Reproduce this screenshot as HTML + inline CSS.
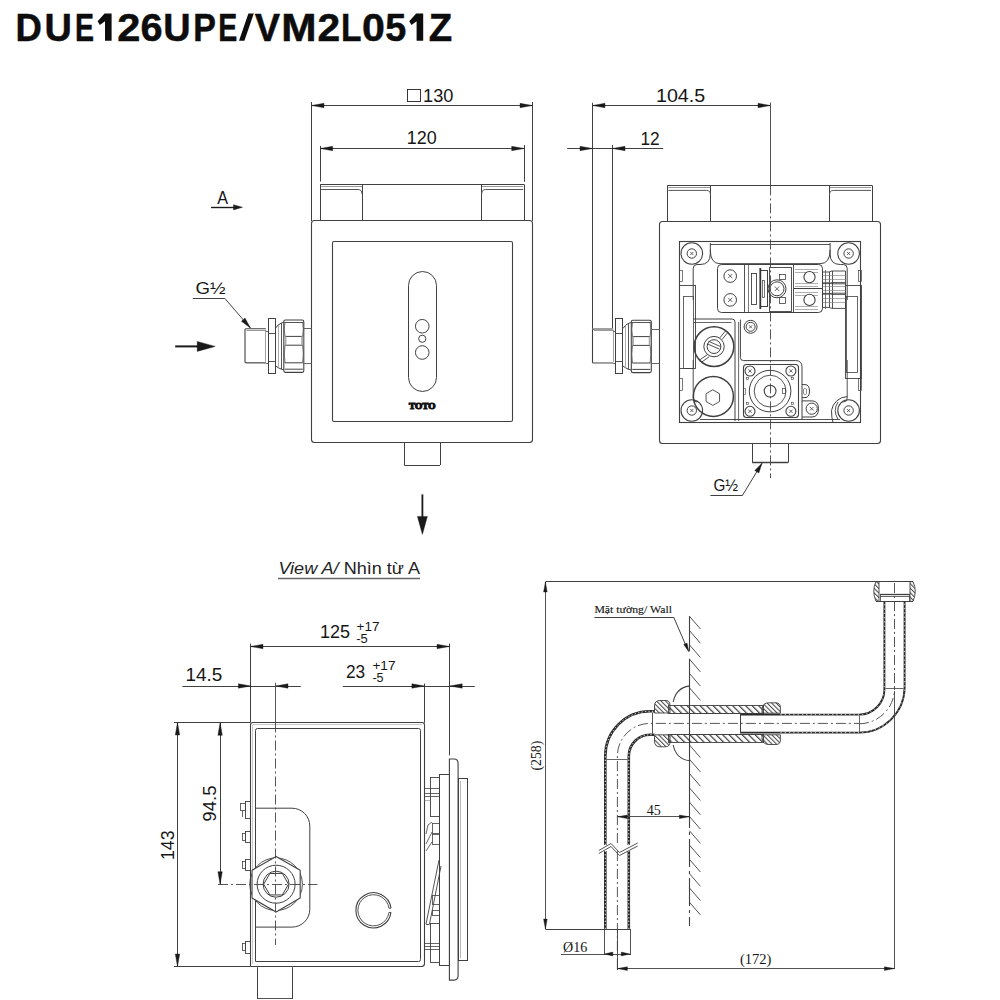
<!DOCTYPE html>
<html><head><meta charset="utf-8"><style>
html,body{margin:0;padding:0;background:#fff;}
svg{display:block;}
</style></head><body>
<svg width="1000" height="1000" viewBox="0 0 1000 1000" style="font-family:'Liberation Sans',sans-serif">
<rect x="0" y="0" width="1000" height="1000" fill="#fff"/>
<defs><pattern id="h" patternUnits="userSpaceOnUse" width="4.6" height="4.6" patternTransform="rotate(-45)"><rect x="0" y="0" width="1.2" height="4.6" fill="#3a3a3a"/></pattern><pattern id="hx" patternUnits="userSpaceOnUse" width="3.2" height="3.2" patternTransform="rotate(-45)"><rect x="0" y="0" width="1.0" height="3.2" fill="#444"/></pattern></defs>
<polygon points="104.60,13.60 111.60,13.60 111.60,40.80 105.00,40.80 105.00,21.20 99.90,25.10 97.60,21.20" fill="#0d0d0d"/>
<polygon points="416.20,13.60 423.20,13.60 423.20,40.80 416.60,40.80 416.60,21.20 411.50,25.10 409.20,21.20" fill="#0d0d0d"/>
<polygon points="239,40.8 244.4,40.8 253.8,13.6 248.4,13.6" fill="#0d0d0d"/>
<text x="0" y="0" transform="translate(15.56,40.8) scale(0.925,1)" font-family="Liberation Sans" font-weight="bold" font-size="39.5" fill="#0d0d0d" stroke="#0d0d0d" stroke-width="0.5">D</text>
<text x="0" y="0" transform="translate(44.52,40.8) scale(0.960,1)" font-family="Liberation Sans" font-weight="bold" font-size="39.5" fill="#0d0d0d" stroke="#0d0d0d" stroke-width="0.5">U</text>
<text x="0" y="0" transform="translate(74.89,40.8) scale(0.722,1)" font-family="Liberation Sans" font-weight="bold" font-size="39.5" fill="#0d0d0d" stroke="#0d0d0d" stroke-width="0.5">E</text>
<text x="0" y="0" transform="translate(117.36,40.8) scale(1.052,1)" font-family="Liberation Sans" font-weight="bold" font-size="39.5" fill="#0d0d0d" stroke="#0d0d0d" stroke-width="0.5">2</text>
<text x="0" y="0" transform="translate(140.55,40.8) scale(1.006,1)" font-family="Liberation Sans" font-weight="bold" font-size="39.5" fill="#0d0d0d" stroke="#0d0d0d" stroke-width="0.5">6</text>
<text x="0" y="0" transform="translate(163.32,40.8) scale(0.960,1)" font-family="Liberation Sans" font-weight="bold" font-size="39.5" fill="#0d0d0d" stroke="#0d0d0d" stroke-width="0.5">U</text>
<text x="0" y="0" transform="translate(193.33,40.8) scale(0.859,1)" font-family="Liberation Sans" font-weight="bold" font-size="39.5" fill="#0d0d0d" stroke="#0d0d0d" stroke-width="0.5">P</text>
<text x="0" y="0" transform="translate(218.29,40.8) scale(0.722,1)" font-family="Liberation Sans" font-weight="bold" font-size="39.5" fill="#0d0d0d" stroke="#0d0d0d" stroke-width="0.5">E</text>
<text x="0" y="0" transform="translate(254.74,40.8) scale(0.961,1)" font-family="Liberation Sans" font-weight="bold" font-size="39.5" fill="#0d0d0d" stroke="#0d0d0d" stroke-width="0.5">V</text>
<text x="0" y="0" transform="translate(281.17,40.8) scale(1.072,1)" font-family="Liberation Sans" font-weight="bold" font-size="39.5" fill="#0d0d0d" stroke="#0d0d0d" stroke-width="0.5">M</text>
<text x="0" y="0" transform="translate(317.39,40.8) scale(1.031,1)" font-family="Liberation Sans" font-weight="bold" font-size="39.5" fill="#0d0d0d" stroke="#0d0d0d" stroke-width="0.5">2</text>
<text x="0" y="0" transform="translate(340.96,40.8) scale(0.849,1)" font-family="Liberation Sans" font-weight="bold" font-size="39.5" fill="#0d0d0d" stroke="#0d0d0d" stroke-width="0.5">L</text>
<text x="0" y="0" transform="translate(361.97,40.8) scale(1.043,1)" font-family="Liberation Sans" font-weight="bold" font-size="39.5" fill="#0d0d0d" stroke="#0d0d0d" stroke-width="0.5">0</text>
<text x="0" y="0" transform="translate(385.24,40.8) scale(0.957,1)" font-family="Liberation Sans" font-weight="bold" font-size="39.5" fill="#0d0d0d" stroke="#0d0d0d" stroke-width="0.5">5</text>
<text x="0" y="0" transform="translate(428.86,40.8) scale(0.972,1)" font-family="Liberation Sans" font-weight="bold" font-size="39.5" fill="#0d0d0d" stroke="#0d0d0d" stroke-width="0.5">Z</text>
<line x1="311.50" y1="102.00" x2="311.50" y2="221.00" stroke="#404040" stroke-width="1.0" />
<line x1="532.50" y1="102.00" x2="532.50" y2="221.00" stroke="#404040" stroke-width="1.0" />
<line x1="311.50" y1="105.50" x2="532.50" y2="105.50" stroke="#404040" stroke-width="1.0" />
<polygon points="311.50,105.50 324.00,103.30 324.00,107.70" fill="#1a1a1a" stroke="#1a1a1a" stroke-width="0.4" stroke-linejoin="round"/>
<polygon points="532.50,105.50 520.00,107.70 520.00,103.30" fill="#1a1a1a" stroke="#1a1a1a" stroke-width="0.4" stroke-linejoin="round"/>
<rect x="407.50" y="89.50" width="13.00" height="12.00" rx="0" stroke="#222" stroke-width="0.9" fill="none"/>
<text x="423.1" y="101.7" font-family="Liberation Sans" font-size="17.6" font-weight="normal" font-style="normal" fill="#161616" text-anchor="start" textLength="30.3" lengthAdjust="spacingAndGlyphs" >130</text>
<line x1="320.50" y1="146.00" x2="320.50" y2="181.60" stroke="#404040" stroke-width="1.0" />
<line x1="524.50" y1="145.00" x2="524.50" y2="181.80" stroke="#404040" stroke-width="1.0" />
<line x1="320.20" y1="148.50" x2="524.20" y2="148.50" stroke="#404040" stroke-width="1.0" />
<polygon points="320.20,148.50 332.70,146.30 332.70,150.70" fill="#1a1a1a" stroke="#1a1a1a" stroke-width="0.4" stroke-linejoin="round"/>
<polygon points="524.20,148.50 511.70,150.70 511.70,146.30" fill="#1a1a1a" stroke="#1a1a1a" stroke-width="0.4" stroke-linejoin="round"/>
<text x="406.7" y="143.7" font-family="Liberation Sans" font-size="17.6" font-weight="normal" font-style="normal" fill="#161616" text-anchor="start" textLength="30" lengthAdjust="spacingAndGlyphs" >120</text>
<line x1="320.20" y1="184.50" x2="524.20" y2="184.50" stroke="#404040" stroke-width="1.0" />
<line x1="320.50" y1="184.50" x2="320.50" y2="221.00" stroke="#404040" stroke-width="1.0" />
<line x1="362.50" y1="184.50" x2="362.50" y2="221.00" stroke="#404040" stroke-width="1.0" />
<line x1="481.50" y1="184.50" x2="481.50" y2="221.00" stroke="#404040" stroke-width="1.0" />
<line x1="524.50" y1="184.50" x2="524.50" y2="221.00" stroke="#404040" stroke-width="1.0" />
<line x1="321.20" y1="186.50" x2="362.00" y2="186.50" stroke="#555" stroke-width="0.6" />
<path d="M321.2,189.5 L358,189.5 Q362,189.5 362,194.0" stroke="#555" stroke-width="1.0" fill="none" />
<line x1="481.70" y1="186.50" x2="523.20" y2="186.50" stroke="#555" stroke-width="0.6" />
<path d="M523.2,189.5 L485.7,189.5 Q481.7,189.5 481.7,194.0" stroke="#555" stroke-width="1.0" fill="none" />
<rect x="311.50" y="220.50" width="221.00" height="222.00" rx="3" stroke="#404040" stroke-width="1.1" fill="#fff"/>
<rect x="332.50" y="241.50" width="180.00" height="180.00" rx="1.5" stroke="#404040" stroke-width="1.1" fill="none"/>
<rect x="408.50" y="271.50" width="28.00" height="120.00" rx="14" stroke="#404040" stroke-width="1.0" fill="none"/>
<circle cx="422.25" cy="326.25" r="6.80" stroke="#404040" stroke-width="1.0" fill="none"/>
<circle cx="422.25" cy="338.75" r="3.60" stroke="#404040" stroke-width="1.0" fill="none"/>
<circle cx="422.25" cy="352.50" r="6.80" stroke="#404040" stroke-width="1.0" fill="none"/>
<text x="422.3" y="408.5" font-family="Liberation Serif" font-size="8.2" font-weight="bold" font-style="normal" fill="#111" text-anchor="middle" textLength="26.5" lengthAdjust="spacingAndGlyphs" stroke="#111" stroke-width="1.1">TOTO</text>
<line x1="404.50" y1="442.50" x2="404.50" y2="465.00" stroke="#404040" stroke-width="1.0" />
<line x1="440.50" y1="442.50" x2="440.50" y2="465.00" stroke="#404040" stroke-width="1.0" />
<line x1="404.25" y1="465.50" x2="440.00" y2="465.50" stroke="#404040" stroke-width="1.0" />
<path d="M265.8,328.8 L246,328.8 Q245,328.8 245,329.8 L245,361.8 Q245,362.8 246,362.8 L265.8,362.8" stroke="#404040" stroke-width="1.1" fill="none" />
<line x1="246.50" y1="330.50" x2="265.80" y2="330.50" stroke="#999" stroke-width="1.0" />
<line x1="265.50" y1="329.80" x2="265.50" y2="361.80" stroke="#888" stroke-width="0.8" />
<line x1="246.00" y1="363.50" x2="265.80" y2="363.50" stroke="#aaa" stroke-width="0.8" />
<line x1="265.80" y1="331.50" x2="268.20" y2="331.50" stroke="#404040" stroke-width="0.8" />
<line x1="265.80" y1="363.50" x2="268.20" y2="363.50" stroke="#404040" stroke-width="0.8" />
<rect x="268.50" y="318.50" width="7.00" height="55.00" rx="0" stroke="#404040" stroke-width="1.0" fill="none"/>
<line x1="268.20" y1="333.50" x2="275.40" y2="333.50" stroke="#404040" stroke-width="0.9" />
<line x1="268.20" y1="361.50" x2="275.40" y2="361.50" stroke="#404040" stroke-width="0.9" />
<path d="M275.4,328.3 L278.4,324.8 L281.4,323.0 L283.8,322.3 M275.4,365.8 L278.4,367.8 L281.4,369.2 L283.8,369.8" stroke="#404040" stroke-width="1.0" fill="none" />
<line x1="278.50" y1="324.80" x2="278.50" y2="367.80" stroke="#888" stroke-width="0.7" />
<line x1="281.50" y1="323.00" x2="281.50" y2="369.20" stroke="#444" stroke-width="0.9" />
<path d="M285.3,320.0 L302.3,320.0 Q303.8,320.0 303.8,321.8 L303.8,370.6 Q303.8,372.40000000000003 302.3,372.40000000000003 L285.3,372.40000000000003 Q283.8,372.40000000000003 283.8,370.6 L283.8,321.8 Q283.8,320.0 285.3,320.0 Z" stroke="#404040" stroke-width="1.1" fill="none" />
<line x1="284.30" y1="322.50" x2="303.30" y2="322.50" stroke="#555" stroke-width="1.0" />
<path d="M284.8,336.40000000000003 L302.8,336.40000000000003 M284.8,345.2 L302.8,345.2 M284.8,362.8 L302.8,362.8 M284.8,369.2 L302.8,369.2" stroke="#404040" stroke-width="1.0" fill="none" />
<path d="M285.0,322.0 Q283.6,329.2 285.0,336.40000000000003 M302.6,322.0 Q304.0,329.2 302.6,336.40000000000003 M285.0,345.2 Q283.6,354.0 285.0,362.8 M302.6,345.2 Q304.0,354.0 302.6,362.8" stroke="#555" stroke-width="0.8" fill="none" />
<line x1="285.40" y1="336.40" x2="285.40" y2="345.20" stroke="#aaa" stroke-width="2.0" />
<line x1="302.20" y1="336.40" x2="302.20" y2="345.20" stroke="#aaa" stroke-width="2.0" />
<line x1="303.80" y1="328.50" x2="311.50" y2="328.50" stroke="#666" stroke-width="1.0" />
<line x1="303.80" y1="363.50" x2="311.50" y2="363.50" stroke="#666" stroke-width="1.0" />
<text x="195.5" y="293.6" font-family="Liberation Sans" font-size="16.5" font-weight="normal" font-style="normal" fill="#161616" text-anchor="start" textLength="30" lengthAdjust="spacingAndGlyphs" >G½</text>
<line x1="192.80" y1="298.50" x2="224.80" y2="298.50" stroke="#404040" stroke-width="1.0" />
<line x1="224.80" y1="298.40" x2="250.40" y2="328.00" stroke="#404040" stroke-width="1.0" />
<polygon points="250.40,328.00 241.39,321.25 245.02,318.11" fill="#1a1a1a" stroke="#1a1a1a" stroke-width="0.4" stroke-linejoin="round"/>
<line x1="175.20" y1="346.40" x2="205.00" y2="346.40" stroke="#1a1a1a" stroke-width="2.0" />
<polygon points="215.20,346.40 197.20,351.40 197.20,341.40" fill="#1a1a1a" stroke="#1a1a1a" stroke-width="0.4" stroke-linejoin="round"/>
<text x="217.3" y="203.5" font-family="Liberation Sans" font-size="17.6" font-weight="normal" font-style="normal" fill="#161616" text-anchor="start" textLength="10.8" lengthAdjust="spacingAndGlyphs" >A</text>
<line x1="211.00" y1="207.50" x2="236.00" y2="207.50" stroke="#1a1a1a" stroke-width="1.4" />
<polygon points="242.50,207.30 233.50,209.90 233.50,204.70" fill="#1a1a1a" stroke="#1a1a1a" stroke-width="0.4" stroke-linejoin="round"/>
<line x1="592.50" y1="102.80" x2="592.50" y2="328.80" stroke="#404040" stroke-width="1.0" />
<line x1="592.50" y1="105.50" x2="770.50" y2="105.50" stroke="#404040" stroke-width="1.0" />
<polygon points="592.50,105.50 605.00,103.30 605.00,107.70" fill="#1a1a1a" stroke="#1a1a1a" stroke-width="0.4" stroke-linejoin="round"/>
<polygon points="770.50,105.50 758.00,107.70 758.00,103.30" fill="#1a1a1a" stroke="#1a1a1a" stroke-width="0.4" stroke-linejoin="round"/>
<text x="656" y="102" font-family="Liberation Sans" font-size="17.6" font-weight="normal" font-style="normal" fill="#161616" text-anchor="start" textLength="49.2" lengthAdjust="spacingAndGlyphs" >104.5</text>
<line x1="567.20" y1="148.50" x2="663.20" y2="148.50" stroke="#404040" stroke-width="1.0" />
<line x1="612.50" y1="145.00" x2="612.50" y2="328.00" stroke="#404040" stroke-width="1.0" />
<polygon points="592.50,148.50 580.00,150.70 580.00,146.30" fill="#1a1a1a" stroke="#1a1a1a" stroke-width="0.4" stroke-linejoin="round"/>
<polygon points="612.50,148.50 625.00,146.30 625.00,150.70" fill="#1a1a1a" stroke="#1a1a1a" stroke-width="0.4" stroke-linejoin="round"/>
<text x="640.4" y="145.3" font-family="Liberation Sans" font-size="17.6" font-weight="normal" font-style="normal" fill="#161616" text-anchor="start" textLength="19.2" lengthAdjust="spacingAndGlyphs" >12</text>
<line x1="667.40" y1="185.50" x2="872.00" y2="185.50" stroke="#404040" stroke-width="1.0" />
<line x1="667.50" y1="185.40" x2="667.50" y2="221.00" stroke="#404040" stroke-width="1.0" />
<line x1="710.50" y1="185.40" x2="710.50" y2="221.00" stroke="#404040" stroke-width="1.0" />
<line x1="829.50" y1="185.40" x2="829.50" y2="221.00" stroke="#404040" stroke-width="1.0" />
<line x1="872.50" y1="185.40" x2="872.50" y2="221.00" stroke="#404040" stroke-width="1.0" />
<line x1="668.40" y1="187.50" x2="710.50" y2="187.50" stroke="#555" stroke-width="0.6" />
<path d="M668.4,190.4 L706.5,190.4 Q710.5,190.4 710.5,194.9" stroke="#555" stroke-width="1.0" fill="none" />
<line x1="829.50" y1="187.50" x2="871.00" y2="187.50" stroke="#555" stroke-width="0.6" />
<path d="M871,190.4 L833.5,190.4 Q829.5,190.4 829.5,194.9" stroke="#555" stroke-width="1.0" fill="none" />
<rect x="659.50" y="221.50" width="221.00" height="222.00" rx="3" stroke="#404040" stroke-width="1.1" fill="#fff"/>
<rect x="679.50" y="241.50" width="181.00" height="181.00" rx="0" stroke="#404040" stroke-width="1.1" fill="none"/>
<path d="M613.3,329 L593.5,329 Q592.5,329 592.5,330 L592.5,362 Q592.5,363 593.5,363 L613.3,363" stroke="#404040" stroke-width="1.1" fill="none" />
<line x1="594.00" y1="330.50" x2="613.30" y2="330.50" stroke="#999" stroke-width="1.0" />
<line x1="613.50" y1="330.00" x2="613.50" y2="362.00" stroke="#888" stroke-width="0.8" />
<line x1="593.50" y1="363.50" x2="613.30" y2="363.50" stroke="#aaa" stroke-width="0.8" />
<line x1="613.30" y1="331.50" x2="615.70" y2="331.50" stroke="#404040" stroke-width="0.8" />
<line x1="613.30" y1="363.50" x2="615.70" y2="363.50" stroke="#404040" stroke-width="0.8" />
<rect x="615.50" y="318.50" width="7.00" height="55.00" rx="0" stroke="#404040" stroke-width="1.0" fill="none"/>
<line x1="615.70" y1="333.50" x2="622.90" y2="333.50" stroke="#404040" stroke-width="0.9" />
<line x1="615.70" y1="361.50" x2="622.90" y2="361.50" stroke="#404040" stroke-width="0.9" />
<path d="M622.9,328.5 L625.9,325 L628.9,323.2 L631.3,322.5 M622.9,366 L625.9,368 L628.9,369.4 L631.3,370" stroke="#404040" stroke-width="1.0" fill="none" />
<line x1="625.50" y1="325.00" x2="625.50" y2="368.00" stroke="#888" stroke-width="0.7" />
<line x1="628.50" y1="323.20" x2="628.50" y2="369.40" stroke="#444" stroke-width="0.9" />
<path d="M632.8,320.2 L649.8,320.2 Q651.3,320.2 651.3,322 L651.3,370.8 Q651.3,372.6 649.8,372.6 L632.8,372.6 Q631.3,372.6 631.3,370.8 L631.3,322 Q631.3,320.2 632.8,320.2 Z" stroke="#404040" stroke-width="1.1" fill="none" />
<line x1="631.80" y1="322.50" x2="650.80" y2="322.50" stroke="#555" stroke-width="1.0" />
<path d="M632.3,336.6 L650.3,336.6 M632.3,345.4 L650.3,345.4 M632.3,363 L650.3,363 M632.3,369.4 L650.3,369.4" stroke="#404040" stroke-width="1.0" fill="none" />
<path d="M632.5,322.2 Q631.0999999999999,329.4 632.5,336.6 M650.0999999999999,322.2 Q651.5,329.4 650.0999999999999,336.6 M632.5,345.4 Q631.0999999999999,354.2 632.5,363 M650.0999999999999,345.4 Q651.5,354.2 650.0999999999999,363" stroke="#555" stroke-width="0.8" fill="none" />
<line x1="632.90" y1="336.60" x2="632.90" y2="345.40" stroke="#aaa" stroke-width="2.0" />
<line x1="649.70" y1="336.60" x2="649.70" y2="345.40" stroke="#aaa" stroke-width="2.0" />
<line x1="651.30" y1="329.50" x2="659.50" y2="329.50" stroke="#666" stroke-width="1.0" />
<line x1="651.30" y1="363.50" x2="659.50" y2="363.50" stroke="#666" stroke-width="1.0" />
<line x1="752.50" y1="443.00" x2="752.50" y2="462.60" stroke="#404040" stroke-width="1.0" />
<line x1="788.50" y1="443.00" x2="788.50" y2="462.60" stroke="#404040" stroke-width="1.0" />
<line x1="752.20" y1="462.50" x2="788.00" y2="462.50" stroke="#404040" stroke-width="1.3" />
<text x="713.4" y="490.8" font-family="Liberation Sans" font-size="16" font-weight="normal" font-style="normal" fill="#161616" text-anchor="start" textLength="24.6" lengthAdjust="spacingAndGlyphs" >G½</text>
<line x1="710.40" y1="495.50" x2="742.20" y2="495.50" stroke="#404040" stroke-width="1.0" />
<line x1="742.20" y1="495.80" x2="762.00" y2="463.20" stroke="#404040" stroke-width="1.0" />
<polygon points="762.00,463.20 758.86,472.99 754.76,470.50" fill="#1a1a1a" stroke="#1a1a1a" stroke-width="0.4" stroke-linejoin="round"/>
<line x1="710.00" y1="244.50" x2="830.00" y2="244.50" stroke="#404040" stroke-width="0.9" />
<line x1="700.00" y1="419.50" x2="840.00" y2="419.50" stroke="#404040" stroke-width="0.9" />
<circle cx="691.80" cy="253.50" r="10.80" stroke="#404040" stroke-width="1.1" fill="none"/>
<circle cx="691.80" cy="253.50" r="4.70" stroke="#404040" stroke-width="1.0" fill="none"/>
<line x1="690.25" y1="251.95" x2="693.35" y2="255.05" stroke="#404040" stroke-width="0.8" />
<line x1="690.25" y1="255.05" x2="693.35" y2="251.95" stroke="#404040" stroke-width="0.8" />
<path d="M693.1999999999999,277.0 L693.1999999999999,267.5 A14,14 0 0 0 705.8,253.5 " stroke="#404040" stroke-width="0.0" fill="none" />
<circle cx="848.60" cy="253.50" r="10.80" stroke="#404040" stroke-width="1.1" fill="none"/>
<circle cx="848.60" cy="253.50" r="4.70" stroke="#404040" stroke-width="1.0" fill="none"/>
<line x1="847.05" y1="251.95" x2="850.15" y2="255.05" stroke="#404040" stroke-width="0.8" />
<line x1="847.05" y1="255.05" x2="850.15" y2="251.95" stroke="#404040" stroke-width="0.8" />
<path d="M847.2,277.0 L847.2,267.5 A14,14 0 0 1 834.6,253.5 " stroke="#404040" stroke-width="0.0" fill="none" />
<circle cx="691.80" cy="410.50" r="10.80" stroke="#404040" stroke-width="1.1" fill="none"/>
<circle cx="691.80" cy="410.50" r="4.70" stroke="#404040" stroke-width="1.0" fill="none"/>
<line x1="690.25" y1="408.95" x2="693.35" y2="412.05" stroke="#404040" stroke-width="0.8" />
<line x1="690.25" y1="412.05" x2="693.35" y2="408.95" stroke="#404040" stroke-width="0.8" />
<path d="M693.1999999999999,387.0 L693.1999999999999,396.5 A14,14 0 0 1 705.8,410.5 " stroke="#404040" stroke-width="0.0" fill="none" />
<circle cx="848.60" cy="410.50" r="10.80" stroke="#404040" stroke-width="1.1" fill="none"/>
<circle cx="848.60" cy="410.50" r="4.70" stroke="#404040" stroke-width="1.0" fill="none"/>
<line x1="847.05" y1="408.95" x2="850.15" y2="412.05" stroke="#404040" stroke-width="0.8" />
<line x1="847.05" y1="412.05" x2="850.15" y2="408.95" stroke="#404040" stroke-width="0.8" />
<path d="M847.2,387.0 L847.2,396.5 A14,14 0 0 0 834.6,410.5 " stroke="#404040" stroke-width="0.0" fill="none" />
<path d="M693.2,300 L693.2,268.5 Q693.2,264.5 697,264.5 L700,264.5 Q710.3,264.5 710.3,254 L710.3,243" stroke="#404040" stroke-width="1.0" fill="none" />
<path d="M847.2,300 L847.2,268.5 Q847.2,264.5 843.4,264.5 L840.4,264.5 Q830.1,264.5 830.1,254 L830.1,243" stroke="#404040" stroke-width="1.0" fill="none" />
<path d="M710.3,250 Q710.3,263.7 720,263.7 L820,263.7 Q830.1,263.7 830.1,250" stroke="#404040" stroke-width="1.0" fill="none" />
<path d="M693.2,360 L693.2,398 Q693.2,402 697,402" stroke="#404040" stroke-width="0.9" fill="none" />
<path d="M847.2,360 L847.2,398 Q847.2,402 843.4,402" stroke="#404040" stroke-width="0.9" fill="none" />
<rect x="679.50" y="285.50" width="16.00" height="83.00" rx="0" stroke="#404040" stroke-width="0.9" fill="none"/>
<rect x="683.50" y="296.50" width="10.00" height="72.00" rx="0" stroke="#404040" stroke-width="0.8" fill="none"/>
<rect x="845.50" y="285.50" width="16.00" height="93.00" rx="0" stroke="#404040" stroke-width="0.9" fill="none"/>
<rect x="846.50" y="296.50" width="11.00" height="76.00" rx="0" stroke="#404040" stroke-width="0.8" fill="none"/>
<rect x="679.50" y="270.50" width="3.00" height="11.00" rx="0" stroke="#404040" stroke-width="0.7" fill="none"/>
<rect x="858.50" y="270.50" width="3.00" height="11.00" rx="0" stroke="#404040" stroke-width="0.7" fill="none"/>
<rect x="679.50" y="378.50" width="3.00" height="12.00" rx="0" stroke="#404040" stroke-width="0.7" fill="none"/>
<rect x="858.50" y="378.50" width="3.00" height="12.00" rx="0" stroke="#404040" stroke-width="0.7" fill="none"/>
<rect x="717.50" y="264.50" width="105.00" height="48.00" rx="4" stroke="#404040" stroke-width="1.0" fill="none"/>
<line x1="744.50" y1="264.40" x2="744.50" y2="312.20" stroke="#404040" stroke-width="0.9" />
<line x1="748.50" y1="264.40" x2="748.50" y2="312.20" stroke="#404040" stroke-width="0.7" />
<circle cx="730.20" cy="276.10" r="6.30" stroke="#404040" stroke-width="1.0" fill="none"/>
<line x1="728.12" y1="274.02" x2="732.28" y2="278.18" stroke="#404040" stroke-width="0.8" />
<line x1="728.12" y1="278.18" x2="732.28" y2="274.02" stroke="#404040" stroke-width="0.8" />
<circle cx="730.20" cy="299.90" r="6.30" stroke="#404040" stroke-width="1.0" fill="none"/>
<line x1="728.12" y1="297.82" x2="732.28" y2="301.98" stroke="#404040" stroke-width="0.8" />
<line x1="728.12" y1="301.98" x2="732.28" y2="297.82" stroke="#404040" stroke-width="0.8" />
<rect x="751.50" y="273.50" width="5.00" height="31.00" rx="0" stroke="#404040" stroke-width="0.9" fill="none"/>
<rect x="760.50" y="270.50" width="7.00" height="36.00" rx="0" stroke="#404040" stroke-width="1.0" fill="none"/>
<line x1="760.30" y1="268.00" x2="760.30" y2="309.00" stroke="#333" stroke-width="1.8" />
<rect x="762.50" y="280.50" width="2.00" height="17.00" rx="0" stroke="#404040" stroke-width="0.7" fill="none"/>
<rect x="769.50" y="267.50" width="22.00" height="44.00" rx="0" stroke="#404040" stroke-width="0.9" fill="none"/>
<rect x="779.50" y="274.50" width="6.00" height="5.00" rx="0" stroke="#404040" stroke-width="0.8" fill="none"/>
<rect x="779.50" y="297.50" width="6.00" height="6.00" rx="0" stroke="#404040" stroke-width="0.8" fill="none"/>
<circle cx="777.00" cy="288.80" r="9.00" stroke="#404040" stroke-width="1.0" fill="none"/>
<circle cx="777.00" cy="288.80" r="7.00" stroke="#404040" stroke-width="1.0" fill="none"/>
<line x1="774.80" y1="286.60" x2="779.20" y2="291.00" stroke="#404040" stroke-width="0.8" />
<line x1="774.80" y1="291.00" x2="779.20" y2="286.60" stroke="#404040" stroke-width="0.8" />
<line x1="793.50" y1="264.40" x2="793.50" y2="312.20" stroke="#404040" stroke-width="0.9" />
<line x1="793.20" y1="288.50" x2="822.50" y2="288.50" stroke="#404040" stroke-width="1.0" />
<line x1="795.00" y1="269.50" x2="818.00" y2="269.50" stroke="#777" stroke-width="0.6" />
<line x1="795.00" y1="272.50" x2="818.00" y2="272.50" stroke="#777" stroke-width="0.6" />
<line x1="795.00" y1="283.50" x2="818.00" y2="283.50" stroke="#777" stroke-width="0.6" />
<line x1="795.00" y1="286.50" x2="818.00" y2="286.50" stroke="#777" stroke-width="0.6" />
<line x1="795.00" y1="292.50" x2="818.00" y2="292.50" stroke="#777" stroke-width="0.6" />
<line x1="795.00" y1="295.50" x2="818.00" y2="295.50" stroke="#777" stroke-width="0.6" />
<line x1="795.00" y1="306.50" x2="818.00" y2="306.50" stroke="#777" stroke-width="0.6" />
<line x1="795.00" y1="309.50" x2="818.00" y2="309.50" stroke="#777" stroke-width="0.6" />
<circle cx="809.50" cy="277.10" r="5.60" stroke="#404040" stroke-width="1.1" fill="#fff"/>
<circle cx="809.50" cy="299.90" r="5.60" stroke="#404040" stroke-width="1.1" fill="#fff"/>
<path d="M822.5,272 L829,272 L832,271 L845.5,271 L845.5,283.8 L832,283.8 L829,282.8 L822.5,282.8" stroke="#404040" stroke-width="0.9" fill="none" />
<line x1="829.50" y1="272.00" x2="829.50" y2="282.80" stroke="#404040" stroke-width="0.9" />
<line x1="832.50" y1="271.00" x2="832.50" y2="283.80" stroke="#404040" stroke-width="0.9" />
<line x1="822.50" y1="275.50" x2="845.50" y2="275.50" stroke="#888" stroke-width="0.7" />
<line x1="822.50" y1="279.50" x2="845.50" y2="279.50" stroke="#888" stroke-width="0.7" />
<path d="M822.5,283.6 L829,283.6 L832,282.6 L845.5,282.6 L845.5,294.4 L832,294.4 L829,293.4 L822.5,293.4" stroke="#404040" stroke-width="0.9" fill="none" />
<line x1="829.50" y1="283.60" x2="829.50" y2="293.40" stroke="#404040" stroke-width="0.9" />
<line x1="832.50" y1="282.60" x2="832.50" y2="294.40" stroke="#404040" stroke-width="0.9" />
<line x1="822.50" y1="286.50" x2="845.50" y2="286.50" stroke="#888" stroke-width="0.7" />
<line x1="822.50" y1="290.50" x2="845.50" y2="290.50" stroke="#888" stroke-width="0.7" />
<path d="M822.5,294.2 L829,294.2 L832,293.2 L845.5,293.2 L845.5,308.4 L832,308.4 L829,307.4 L822.5,307.4" stroke="#404040" stroke-width="0.9" fill="none" />
<line x1="829.50" y1="294.20" x2="829.50" y2="307.40" stroke="#404040" stroke-width="0.9" />
<line x1="832.50" y1="293.20" x2="832.50" y2="308.40" stroke="#404040" stroke-width="0.9" />
<line x1="822.50" y1="298.50" x2="845.50" y2="298.50" stroke="#888" stroke-width="0.7" />
<line x1="822.50" y1="302.50" x2="845.50" y2="302.50" stroke="#888" stroke-width="0.7" />
<line x1="825.50" y1="270.00" x2="825.50" y2="309.00" stroke="#555" stroke-width="0.8" />
<path d="M693.2,319 L732,319 Q735,319 735,322 L735,421" stroke="#404040" stroke-width="1.0" fill="none" />
<line x1="693.20" y1="322.50" x2="731.50" y2="322.50" stroke="#404040" stroke-width="0.8" />
<path d="M738.6,322 L738.6,421" stroke="#404040" stroke-width="0.8" fill="none" />
<path d="M740.4,319.6 L740.4,357.5 Q740.4,360.6 743.5,360.6 L795.7,360.6 Q802,360.6 802,366.9 L802,419.7" stroke="#404040" stroke-width="1.0" fill="none" />
<circle cx="750.60" cy="326.80" r="6.50" stroke="#404040" stroke-width="1.0" fill="none"/>
<circle cx="750.60" cy="326.80" r="4.50" stroke="#404040" stroke-width="1.0" fill="none"/>
<line x1="749.12" y1="325.31" x2="752.09" y2="328.29" stroke="#404040" stroke-width="0.8" />
<line x1="749.12" y1="328.29" x2="752.09" y2="325.31" stroke="#404040" stroke-width="0.8" />
<path d="M740.4,319.6 L745,319.6 Q757,319.6 757,326.8 Q757,334 745,334 L740.4,334" stroke="#404040" stroke-width="0.0" fill="none" />
<circle cx="714.00" cy="346.60" r="19.80" stroke="#404040" stroke-width="1.5" fill="none"/>
<circle cx="714.00" cy="346.60" r="10.20" stroke="#404040" stroke-width="1.0" fill="none"/>
<circle cx="714.00" cy="346.60" r="6.90" stroke="#404040" stroke-width="1.0" fill="none"/>
<line x1="707.20" y1="343.80" x2="719.60" y2="349.20" stroke="#404040" stroke-width="0.9" />
<line x1="708.40" y1="341.20" x2="720.60" y2="346.60" stroke="#404040" stroke-width="0.9" />
<line x1="725.40" y1="331.00" x2="719.90" y2="337.80" stroke="#404040" stroke-width="0.9" />
<line x1="727.60" y1="332.80" x2="721.90" y2="339.60" stroke="#404040" stroke-width="0.9" />
<line x1="699.00" y1="360.40" x2="707.50" y2="354.60" stroke="#404040" stroke-width="0.9" />
<line x1="701.20" y1="362.40" x2="709.20" y2="356.80" stroke="#404040" stroke-width="0.9" />
<circle cx="713.40" cy="396.40" r="20.00" stroke="#404040" stroke-width="1.5" fill="none"/>
<polygon points="712.80,389.80 719.55,393.70 719.55,401.50 712.80,405.40 706.05,401.50 706.05,393.70" stroke="#555" stroke-width="1.0" fill="none" stroke-linejoin="round"/>
<rect x="743.50" y="364.50" width="55.00" height="53.00" rx="3" stroke="#404040" stroke-width="1.1" fill="none"/>
<circle cx="770.10" cy="391.10" r="20.80" stroke="#404040" stroke-width="1.0" fill="none"/>
<circle cx="770.10" cy="391.10" r="15.90" stroke="#404040" stroke-width="0.9" fill="none"/>
<circle cx="770.10" cy="391.10" r="5.90" stroke="#404040" stroke-width="1.1" fill="none"/>
<rect x="782.50" y="388.50" width="3.00" height="5.00" rx="0" stroke="#404040" stroke-width="0.7" fill="none"/>
<circle cx="750.00" cy="371.00" r="5.00" stroke="#404040" stroke-width="1.1" fill="none"/>
<line x1="748.35" y1="369.35" x2="751.65" y2="372.65" stroke="#404040" stroke-width="0.8" />
<line x1="748.35" y1="372.65" x2="751.65" y2="369.35" stroke="#404040" stroke-width="0.8" />
<circle cx="790.90" cy="371.00" r="5.00" stroke="#404040" stroke-width="1.1" fill="none"/>
<line x1="789.25" y1="369.35" x2="792.55" y2="372.65" stroke="#404040" stroke-width="0.8" />
<line x1="789.25" y1="372.65" x2="792.55" y2="369.35" stroke="#404040" stroke-width="0.8" />
<circle cx="750.00" cy="411.30" r="5.00" stroke="#404040" stroke-width="1.1" fill="none"/>
<line x1="748.35" y1="409.65" x2="751.65" y2="412.95" stroke="#404040" stroke-width="0.8" />
<line x1="748.35" y1="412.95" x2="751.65" y2="409.65" stroke="#404040" stroke-width="0.8" />
<circle cx="790.90" cy="411.30" r="5.00" stroke="#404040" stroke-width="1.1" fill="none"/>
<line x1="789.25" y1="409.65" x2="792.55" y2="412.95" stroke="#404040" stroke-width="0.8" />
<line x1="789.25" y1="412.95" x2="792.55" y2="409.65" stroke="#404040" stroke-width="0.8" />
<rect x="746.50" y="377.50" width="2.00" height="2.00" rx="0" stroke="#404040" stroke-width="0.6" fill="none"/>
<rect x="791.50" y="377.50" width="2.00" height="2.00" rx="0" stroke="#404040" stroke-width="0.6" fill="none"/>
<rect x="746.50" y="402.50" width="2.00" height="2.00" rx="0" stroke="#404040" stroke-width="0.6" fill="none"/>
<rect x="791.50" y="402.50" width="2.00" height="2.00" rx="0" stroke="#404040" stroke-width="0.6" fill="none"/>
<rect x="743.50" y="388.50" width="2.00" height="6.00" rx="0" stroke="#404040" stroke-width="0.6" fill="none"/>
<path d="M802,384.6 L805,384.6 Q809.5,384.6 809.5,391 Q809.5,397.6 805,397.6 L802,397.6" stroke="#404040" stroke-width="1.0" fill="none" />
<rect x="803.50" y="388.50" width="3.00" height="6.00" rx="1.2" stroke="#404040" stroke-width="0.6" fill="none"/>
<path d="M802,400.9 L812,400.9 Q818.5,400.9 818.5,408.7 Q818.5,417 812,417 L802,417" stroke="#404040" stroke-width="1.0" fill="none" />
<circle cx="811.70" cy="408.70" r="5.60" stroke="#404040" stroke-width="1.0" fill="none"/>
<line x1="809.85" y1="406.85" x2="813.55" y2="410.55" stroke="#404040" stroke-width="0.8" />
<line x1="809.85" y1="410.55" x2="813.55" y2="406.85" stroke="#404040" stroke-width="0.8" />
<path d="M847.2,396.6 A16.5,16.5 0 0 0 831.5,410.5 Q831.5,418 833,422.6" stroke="#404040" stroke-width="1.0" fill="none" />
<path d="M838,402 Q832.5,410.5 838,419.3" stroke="#404040" stroke-width="0.9" fill="none" />
<line x1="770.50" y1="102.50" x2="770.50" y2="185.40" stroke="#404040" stroke-width="0.9" />
<line x1="770.50" y1="185.40" x2="770.50" y2="478.00" stroke="#444" stroke-width="0.9" stroke-dasharray="10 3 2 3"/>
<line x1="422.40" y1="494.40" x2="422.40" y2="518.00" stroke="#1a1a1a" stroke-width="1.8" />
<polygon points="422.40,534.40 417.40,516.40 427.40,516.40" fill="#1a1a1a" stroke="#1a1a1a" stroke-width="0.4" stroke-linejoin="round"/>
<text x="278.4" y="574" font-family="Liberation Sans" font-size="16.5" font-weight="normal" font-style="normal" fill="#222" text-anchor="start" textLength="141.6" lengthAdjust="spacingAndGlyphs" ><tspan font-style="italic">View A/</tspan> Nhìn từ A</text>
<line x1="278.00" y1="578.50" x2="420.00" y2="578.50" stroke="#666" stroke-width="1.6" />
<line x1="250.50" y1="643.60" x2="250.50" y2="722.50" stroke="#404040" stroke-width="1.0" />
<line x1="449.50" y1="643.60" x2="449.50" y2="755.40" stroke="#404040" stroke-width="1.0" />
<line x1="250.50" y1="646.50" x2="449.50" y2="646.50" stroke="#404040" stroke-width="1.0" />
<polygon points="250.50,646.50 263.00,644.30 263.00,648.70" fill="#1a1a1a" stroke="#1a1a1a" stroke-width="0.4" stroke-linejoin="round"/>
<polygon points="449.50,646.50 437.00,648.70 437.00,644.30" fill="#1a1a1a" stroke="#1a1a1a" stroke-width="0.4" stroke-linejoin="round"/>
<text x="319.9" y="638.1" font-family="Liberation Sans" font-size="18.6" font-weight="normal" font-style="normal" fill="#161616" text-anchor="start" textLength="30.1" lengthAdjust="spacingAndGlyphs" >125</text>
<text x="356.5" y="630.7" font-family="Liberation Sans" font-size="12.5" font-weight="normal" font-style="normal" fill="#161616" text-anchor="start" textLength="22.9" lengthAdjust="spacingAndGlyphs" >+17</text>
<text x="356.3" y="642.6" font-family="Liberation Sans" font-size="12.5" font-weight="normal" font-style="normal" fill="#161616" text-anchor="start" textLength="11.5" lengthAdjust="spacingAndGlyphs" >-5</text>
<line x1="182.40" y1="686.50" x2="300.80" y2="686.50" stroke="#404040" stroke-width="1.0" />
<polygon points="250.90,686.00 238.40,688.20 238.40,683.80" fill="#1a1a1a" stroke="#1a1a1a" stroke-width="0.4" stroke-linejoin="round"/>
<polygon points="275.50,686.00 288.00,683.80 288.00,688.20" fill="#1a1a1a" stroke="#1a1a1a" stroke-width="0.4" stroke-linejoin="round"/>
<text x="185.6" y="681.2" font-family="Liberation Sans" font-size="17.6" font-weight="normal" font-style="normal" fill="#161616" text-anchor="start" textLength="36.8" lengthAdjust="spacingAndGlyphs" >14.5</text>
<line x1="342.80" y1="686.50" x2="474.80" y2="686.50" stroke="#404040" stroke-width="1.0" />
<line x1="424.50" y1="683.60" x2="424.50" y2="722.80" stroke="#404040" stroke-width="1.0" />
<polygon points="424.40,686.00 411.90,688.20 411.90,683.80" fill="#1a1a1a" stroke="#1a1a1a" stroke-width="0.4" stroke-linejoin="round"/>
<polygon points="449.70,686.00 462.20,683.80 462.20,688.20" fill="#1a1a1a" stroke="#1a1a1a" stroke-width="0.4" stroke-linejoin="round"/>
<text x="346" y="677.5" font-family="Liberation Sans" font-size="17.6" font-weight="normal" font-style="normal" fill="#161616" text-anchor="start" textLength="19.2" lengthAdjust="spacingAndGlyphs" >23</text>
<text x="372.4" y="670" font-family="Liberation Sans" font-size="12.5" font-weight="normal" font-style="normal" fill="#161616" text-anchor="start" textLength="23.2" lengthAdjust="spacingAndGlyphs" >+17</text>
<text x="372.4" y="682" font-family="Liberation Sans" font-size="12.5" font-weight="normal" font-style="normal" fill="#161616" text-anchor="start" textLength="11.2" lengthAdjust="spacingAndGlyphs" >-5</text>
<path d="M250.5,966.5 L250.5,725 Q250.5,722.5 253,722.5 L422,722.5 Q424.5,722.5 424.5,725 L424.5,963.5 Q424.5,966.5 421.5,966.5 L250.5,966.5" stroke="#404040" stroke-width="1.1" fill="#fff" />
<line x1="252.50" y1="725.00" x2="252.50" y2="964.00" stroke="#bbb" stroke-width="0.8" />
<line x1="253.00" y1="724.50" x2="422.00" y2="724.50" stroke="#bbb" stroke-width="0.8" />
<path d="M255.5,961.5 L255.5,730.5 Q255.5,728.5 257.5,728.5 L418.5,728.5 Q420.5,728.5 420.5,730.5 L420.5,959.5 Q420.5,961.5 418.5,961.5 Z" stroke="#404040" stroke-width="1.0" fill="none" />
<line x1="174.00" y1="722.50" x2="250.50" y2="722.50" stroke="#404040" stroke-width="1.0" />
<line x1="174.00" y1="966.50" x2="250.50" y2="966.50" stroke="#404040" stroke-width="1.0" />
<line x1="177.50" y1="722.50" x2="177.50" y2="966.50" stroke="#404040" stroke-width="1.0" />
<polygon points="177.50,722.50 179.70,735.00 175.30,735.00" fill="#1a1a1a" stroke="#1a1a1a" stroke-width="0.4" stroke-linejoin="round"/>
<polygon points="177.50,966.50 175.30,954.00 179.70,954.00" fill="#1a1a1a" stroke="#1a1a1a" stroke-width="0.4" stroke-linejoin="round"/>
<text x="174" y="860" font-family="Liberation Sans" font-size="17.6" font-weight="normal" font-style="normal" fill="#161616" text-anchor="start" textLength="29.5" lengthAdjust="spacingAndGlyphs" transform="rotate(-90 174 860)" >143</text>
<line x1="220.50" y1="722.80" x2="220.50" y2="884.20" stroke="#404040" stroke-width="1.0" />
<polygon points="220.10,722.80 222.30,735.30 217.90,735.30" fill="#1a1a1a" stroke="#1a1a1a" stroke-width="0.4" stroke-linejoin="round"/>
<polygon points="220.10,884.20 217.90,871.70 222.30,871.70" fill="#1a1a1a" stroke="#1a1a1a" stroke-width="0.4" stroke-linejoin="round"/>
<text x="216.2" y="821.7" font-family="Liberation Sans" font-size="17.6" font-weight="normal" font-style="normal" fill="#161616" text-anchor="start" textLength="36.3" lengthAdjust="spacingAndGlyphs" transform="rotate(-90 216.2 821.7)" >94.5</text>
<path d="M255.6,808.2 L292,808.2 A17.8,17.8 0 0 1 309.8,826 L309.8,909.3 A17.8,17.8 0 0 1 292,927.1 L255.6,927.1" stroke="#404040" stroke-width="1.0" fill="none" />
<circle cx="276.10" cy="884.20" r="26.30" stroke="#404040" stroke-width="0.9" fill="none"/>
<polygon points="276.10,856.40 300.18,870.30 300.18,898.10 276.10,912.00 252.02,898.10 252.02,870.30" stroke="#404040" stroke-width="1.1" fill="#fff" stroke-linejoin="round"/>
<circle cx="276.10" cy="884.20" r="19.00" stroke="#404040" stroke-width="1.0" fill="none"/>
<circle cx="276.10" cy="884.20" r="13.00" stroke="#404040" stroke-width="1.0" fill="none"/>
<polygon points="288.50,884.20 282.30,894.94 269.90,894.94 263.70,884.20 269.90,873.46 282.30,873.46" stroke="#404040" stroke-width="1.0" fill="none" stroke-linejoin="round"/>
<line x1="218.00" y1="884.50" x2="317.50" y2="884.50" stroke="#444" stroke-width="0.9" stroke-dasharray="10 3 2 3"/>
<line x1="275.50" y1="682.80" x2="275.50" y2="722.50" stroke="#444" stroke-width="0.9" />
<line x1="275.50" y1="722.50" x2="275.50" y2="945.00" stroke="#444" stroke-width="0.9" stroke-dasharray="10 3 2 3"/>
<rect x="245.50" y="831.50" width="5.00" height="11.00" rx="0" stroke="#404040" stroke-width="0.9" fill="none"/>
<rect x="242.50" y="833.50" width="3.00" height="7.00" rx="0" stroke="#404040" stroke-width="0.8" fill="none"/>
<rect x="245.50" y="859.50" width="5.00" height="11.00" rx="0" stroke="#404040" stroke-width="0.9" fill="none"/>
<rect x="242.50" y="861.50" width="3.00" height="7.00" rx="0" stroke="#404040" stroke-width="0.8" fill="none"/>
<rect x="245.50" y="941.50" width="5.00" height="12.00" rx="0" stroke="#404040" stroke-width="0.9" fill="none"/>
<rect x="242.50" y="943.50" width="3.00" height="7.00" rx="0" stroke="#404040" stroke-width="0.8" fill="none"/>
<rect x="245.50" y="801.50" width="5.00" height="17.00" rx="0" stroke="#404040" stroke-width="0.9" fill="none"/>
<rect x="240.50" y="803.50" width="5.00" height="7.00" rx="0" stroke="#404040" stroke-width="0.8" fill="none"/>
<line x1="242.50" y1="810.20" x2="242.50" y2="817.00" stroke="#404040" stroke-width="0.8" />
<path d="M390.97,908.16 A17.6,17.6 0 1 0 390.97,912.44" stroke="#404040" stroke-width="1.1" fill="none" />
<path d="M388.95,908.13 A15.6,15.6 0 1 0 388.95,912.47" stroke="#555" stroke-width="1.0" fill="none" />
<line x1="390.97" y1="908.16" x2="388.95" y2="908.13" stroke="#404040" stroke-width="0.9" />
<line x1="390.97" y1="912.44" x2="388.95" y2="912.47" stroke="#404040" stroke-width="0.9" />
<line x1="257.50" y1="967.20" x2="257.50" y2="999.00" stroke="#404040" stroke-width="1.0" />
<line x1="292.50" y1="967.20" x2="292.50" y2="999.00" stroke="#404040" stroke-width="1.0" />
<line x1="257.60" y1="998.50" x2="292.80" y2="998.50" stroke="#404040" stroke-width="0.9" />
<rect x="439.50" y="774.50" width="10.00" height="191.00" rx="0" stroke="#404040" stroke-width="1.0" fill="none"/>
<path d="M449.4,759 L454,759 Q458.1,759 458.1,763.5 L458.1,975.5 Q458.1,980.1 454,980.1 L449.4,980.1 Z" stroke="#404040" stroke-width="1.1" fill="none" />
<rect x="458.50" y="778.50" width="9.00" height="182.00" rx="0" stroke="#404040" stroke-width="1.0" fill="none"/>
<line x1="460.50" y1="781.00" x2="460.50" y2="958.00" stroke="#888" stroke-width="0.6" />
<rect x="430.50" y="777.50" width="9.00" height="39.00" rx="0" stroke="#404040" stroke-width="0.9" fill="none"/>
<line x1="424.70" y1="788.50" x2="439.00" y2="788.50" stroke="#404040" stroke-width="0.8" />
<line x1="424.70" y1="793.50" x2="439.00" y2="793.50" stroke="#404040" stroke-width="0.8" />
<line x1="424.70" y1="796.50" x2="439.00" y2="796.50" stroke="#404040" stroke-width="0.8" />
<rect x="432.50" y="823.50" width="7.00" height="10.00" rx="0" stroke="#404040" stroke-width="0.8" fill="none"/>
<rect x="432.50" y="834.50" width="7.00" height="10.00" rx="0" stroke="#404040" stroke-width="0.8" fill="none"/>
<polyline points="426.00,834.00 428.00,825.00 432.00,822.00" stroke="#404040" stroke-width="0.8" fill="none" stroke-linejoin="round"/>
<polyline points="426.00,844.00 432.00,832.00" stroke="#404040" stroke-width="0.8" fill="none" stroke-linejoin="round"/>
<polyline points="426.00,851.00 432.00,842.00" stroke="#404040" stroke-width="0.8" fill="none" stroke-linejoin="round"/>
<polyline points="426.00,924.00 439.00,860.00" stroke="#404040" stroke-width="0.9" fill="none" stroke-linejoin="round"/>
<polyline points="429.50,924.00 441.00,866.00" stroke="#404040" stroke-width="0.9" fill="none" stroke-linejoin="round"/>
<line x1="426.00" y1="924.50" x2="429.50" y2="924.50" stroke="#404040" stroke-width="0.9" />
<rect x="432.50" y="895.50" width="7.00" height="9.00" rx="0" stroke="#404040" stroke-width="0.8" fill="none"/>
<rect x="432.50" y="910.50" width="7.00" height="5.00" rx="0" stroke="#404040" stroke-width="0.8" fill="none"/>
<rect x="430.50" y="923.50" width="9.00" height="39.00" rx="0" stroke="#404040" stroke-width="0.9" fill="none"/>
<line x1="424.70" y1="943.50" x2="439.00" y2="943.50" stroke="#404040" stroke-width="0.8" />
<line x1="424.70" y1="946.50" x2="439.00" y2="946.50" stroke="#404040" stroke-width="0.8" />
<line x1="424.70" y1="949.50" x2="439.00" y2="949.50" stroke="#404040" stroke-width="0.8" />
<line x1="424.70" y1="800.50" x2="430.40" y2="800.50" stroke="#888" stroke-width="0.6" />
<line x1="545.50" y1="582.00" x2="545.50" y2="929.10" stroke="#404040" stroke-width="0.9" />
<polygon points="545.40,582.00 547.20,592.00 543.60,592.00" fill="#1a1a1a" stroke="#1a1a1a" stroke-width="0.4" stroke-linejoin="round"/>
<polygon points="545.40,929.10 543.60,919.10 547.20,919.10" fill="#1a1a1a" stroke="#1a1a1a" stroke-width="0.4" stroke-linejoin="round"/>
<line x1="545.40" y1="581.50" x2="912.00" y2="581.50" stroke="#404040" stroke-width="1.0" />
<line x1="545.40" y1="929.50" x2="630.30" y2="929.50" stroke="#404040" stroke-width="1.0" />
<text x="540.8" y="770.5" font-family="Liberation Serif" font-size="14.2" font-weight="normal" font-style="normal" fill="#161616" text-anchor="start" textLength="29.8" lengthAdjust="spacingAndGlyphs" transform="rotate(-90 540.8 770.5)" >(258)</text>
<line x1="689.50" y1="616.20" x2="689.50" y2="651.00" stroke="#404040" stroke-width="1.1" />
<line x1="689.50" y1="658.70" x2="689.50" y2="800.00" stroke="#404040" stroke-width="1.1" />
<line x1="689.50" y1="800.00" x2="689.50" y2="926.00" stroke="#404040" stroke-width="1.1" stroke-dasharray="28 4 3 4"/>
<line x1="689.40" y1="616.20" x2="700.40" y2="628.90" stroke="#404040" stroke-width="0.9" />
<line x1="689.40" y1="630.50" x2="700.40" y2="643.20" stroke="#404040" stroke-width="0.9" />
<line x1="689.40" y1="644.80" x2="700.40" y2="657.50" stroke="#404040" stroke-width="0.9" />
<line x1="689.40" y1="659.10" x2="700.40" y2="671.80" stroke="#404040" stroke-width="0.9" />
<line x1="689.40" y1="673.40" x2="700.40" y2="686.10" stroke="#404040" stroke-width="0.9" />
<line x1="689.40" y1="687.70" x2="700.40" y2="700.40" stroke="#404040" stroke-width="0.9" />
<line x1="689.40" y1="744.90" x2="700.40" y2="757.60" stroke="#404040" stroke-width="0.9" />
<line x1="689.40" y1="759.20" x2="700.40" y2="771.90" stroke="#404040" stroke-width="0.9" />
<line x1="689.40" y1="773.50" x2="700.40" y2="786.20" stroke="#404040" stroke-width="0.9" />
<line x1="689.40" y1="787.80" x2="700.40" y2="800.50" stroke="#404040" stroke-width="0.9" />
<line x1="689.40" y1="802.10" x2="700.40" y2="814.80" stroke="#404040" stroke-width="0.9" />
<line x1="689.40" y1="816.40" x2="700.40" y2="829.10" stroke="#404040" stroke-width="0.9" />
<line x1="689.40" y1="830.70" x2="700.40" y2="843.40" stroke="#404040" stroke-width="0.9" />
<line x1="689.40" y1="845.00" x2="700.40" y2="857.70" stroke="#404040" stroke-width="0.9" />
<line x1="689.40" y1="859.30" x2="700.40" y2="872.00" stroke="#404040" stroke-width="0.9" />
<line x1="689.40" y1="873.60" x2="700.40" y2="886.30" stroke="#404040" stroke-width="0.9" />
<line x1="689.40" y1="887.90" x2="700.40" y2="900.60" stroke="#404040" stroke-width="0.9" />
<line x1="689.40" y1="902.20" x2="700.40" y2="914.90" stroke="#404040" stroke-width="0.9" />
<text x="594.4" y="613" font-family="Liberation Serif" font-size="11" font-weight="normal" font-style="normal" fill="#161616" text-anchor="start" textLength="77.6" lengthAdjust="spacingAndGlyphs" stroke="#222" stroke-width="0.15">Mặt tường/ Wall</text>
<line x1="594.40" y1="617.50" x2="673.60" y2="617.50" stroke="#404040" stroke-width="1.0" />
<line x1="673.60" y1="617.00" x2="687.00" y2="648.00" stroke="#404040" stroke-width="1.0" />
<polygon points="689.00,652.00 683.73,644.49 687.02,643.04" fill="#1a1a1a" stroke="#1a1a1a" stroke-width="0.4" stroke-linejoin="round"/>
<path d="M689.4,685.9 Q676,688 673.2,702" stroke="#404040" stroke-width="1.1" fill="none" />
<path d="M673.2,745 Q676,759 689.4,760.7" stroke="#404040" stroke-width="1.1" fill="none" />
<rect x="668.50" y="705.50" width="95.00" height="8.00" rx="0" stroke="#404040" stroke-width="0.9" fill="url(#h)"/>
<rect x="668.50" y="734.50" width="95.00" height="8.00" rx="0" stroke="#404040" stroke-width="0.9" fill="url(#h)"/>
<path d="M654.5,711.5 L654.5,706 Q654.5,700.5 660,700.5 L666,700.5 Q670,700.5 670,705.4 L670,713 L654.5,713 Z" stroke="#404040" stroke-width="0.9" fill="url(#hx)" />
<path d="M654.5,734.8 L670,734.8 L670,742.2 Q670,746.8 665,746.8 L660,746.8 Q654.5,746.8 654.5,741 Z" stroke="#404040" stroke-width="0.9" fill="url(#hx)" />
<path d="M762,713.2 L762,708 Q763,702.8 769,702.8 L776,702.8 Q780.4,702.8 780.4,707.5 L780.4,713.2 Z" stroke="#404040" stroke-width="0.9" fill="url(#hx)" />
<path d="M762,734.8 L780.4,734.8 L780.4,740 Q780.4,744.5 776,744.5 L769,744.5 Q763,744.5 762,739 Z" stroke="#404040" stroke-width="0.9" fill="url(#hx)" />
<path d="M605.3,929 L605.3,756 A44.7,44.7 0 0 1 650,711.3 L654.5,711.3" stroke="#2a2a2a" stroke-width="2.6" fill="none" />
<path d="M605.3,929 L605.3,756 A44.7,44.7 0 0 1 650,711.3 L654.5,711.3" stroke="#ffffff" stroke-width="0.9" fill="none" stroke-dasharray="1.3 2.2"/>
<path d="M628.8,929 L628.8,756 A21.2,21.2 0 0 1 650,734.8 L654.5,734.8" stroke="#2a2a2a" stroke-width="2.6" fill="none" />
<path d="M628.8,929 L628.8,756 A21.2,21.2 0 0 1 650,734.8 L654.5,734.8" stroke="#ffffff" stroke-width="0.9" fill="none" stroke-dasharray="1.3 2.2"/>
<line x1="652.50" y1="713.00" x2="652.50" y2="733.50" stroke="#404040" stroke-width="0.9" />
<line x1="606.50" y1="759.50" x2="627.50" y2="759.50" stroke="#404040" stroke-width="0.8" />
<path d="M617.4,969 L617.4,756 A32.6,32.6 0 0 1 650,723.4 L859,723.4" stroke="#444" stroke-width="0.9" fill="none" stroke-dasharray="10 3 2 3"/>
<line x1="670.00" y1="713.50" x2="763.00" y2="713.50" stroke="#404040" stroke-width="0.9" />
<line x1="670.00" y1="734.50" x2="763.00" y2="734.50" stroke="#404040" stroke-width="0.9" />
<path d="M740.4,714.6 L859,714.6 A25.4,25.4 0 0 0 884.4,688 L884.4,601" stroke="#2a2a2a" stroke-width="1.9" fill="none" />
<path d="M740.4,732.6 L859,732.6 A45.6,45.6 0 0 0 904.6,688 L904.6,601" stroke="#2a2a2a" stroke-width="1.9" fill="none" />
<path d="M780.4,714.6 L859,714.6 A25.4,25.4 0 0 0 884.4,688 L884.4,601" stroke="#fff" stroke-width="0.7" fill="none" stroke-dasharray="1.3 3"/>
<path d="M780.4,732.6 L859,732.6 A45.6,45.6 0 0 0 904.6,688 L904.6,601" stroke="#fff" stroke-width="0.7" fill="none" stroke-dasharray="1.3 3"/>
<line x1="740.50" y1="714.00" x2="740.50" y2="733.40" stroke="#404040" stroke-width="1.0" />
<line x1="859.50" y1="715.50" x2="859.50" y2="731.80" stroke="#404040" stroke-width="0.8" />
<line x1="885.50" y1="688.50" x2="903.50" y2="688.50" stroke="#404040" stroke-width="0.8" />
<path d="M859,723.8 A35.6,35.6 0 0 0 894.6,688" stroke="#444" stroke-width="0.9" fill="none" stroke-dasharray="10 3 2 3"/>
<line x1="894.50" y1="583.00" x2="894.50" y2="700.00" stroke="#444" stroke-width="0.9" stroke-dasharray="10 3 2 3"/>
<path d="M876,581.6 Q871.5,591 876,601.4 L879,601.4 L879,581.6 Z" stroke="#404040" stroke-width="0.9" fill="url(#hx)" />
<path d="M913,581.6 Q917.5,591 913,601.4 L910,601.4 L910,581.6 Z" stroke="#404040" stroke-width="0.9" fill="url(#hx)" />
<line x1="876.00" y1="601.50" x2="913.00" y2="601.50" stroke="#404040" stroke-width="1.0" />
<line x1="880.00" y1="594.50" x2="909.70" y2="594.50" stroke="#404040" stroke-width="1.3" />
<line x1="880.00" y1="596.50" x2="909.70" y2="596.50" stroke="#404040" stroke-width="0.8" />
<line x1="880.50" y1="594.40" x2="880.50" y2="601.40" stroke="#404040" stroke-width="0.8" />
<line x1="909.50" y1="594.40" x2="909.50" y2="601.40" stroke="#404040" stroke-width="0.8" />
<line x1="894.50" y1="700.00" x2="894.50" y2="969.00" stroke="#404040" stroke-width="0.9" />
<line x1="617.40" y1="816.50" x2="689.40" y2="816.50" stroke="#404040" stroke-width="0.9" />
<polygon points="617.40,816.80 627.40,815.00 627.40,818.60" fill="#1a1a1a" stroke="#1a1a1a" stroke-width="0.4" stroke-linejoin="round"/>
<polygon points="689.40,816.80 679.40,818.60 679.40,815.00" fill="#1a1a1a" stroke="#1a1a1a" stroke-width="0.4" stroke-linejoin="round"/>
<text x="646.7" y="814.7" font-family="Liberation Serif" font-size="13.6" font-weight="normal" font-style="normal" fill="#161616" text-anchor="start" textLength="14.1" lengthAdjust="spacingAndGlyphs" >45</text>
<rect x="600" y="845" width="36" height="6" fill="#fff"/>
<polyline points="598.80,850.50 611.00,843.50 619.50,852.50 637.70,843.00" stroke="#404040" stroke-width="0.9" fill="none" stroke-linejoin="round"/>
<polyline points="598.80,853.50 611.00,846.50 619.50,855.50 637.70,846.00" stroke="#404040" stroke-width="0.9" fill="none" stroke-linejoin="round"/>
<line x1="604.50" y1="929.00" x2="604.50" y2="955.00" stroke="#404040" stroke-width="0.9" />
<line x1="630.50" y1="929.00" x2="630.50" y2="955.00" stroke="#404040" stroke-width="0.9" />
<line x1="561.00" y1="954.50" x2="630.30" y2="954.50" stroke="#404040" stroke-width="0.9" />
<polygon points="604.30,954.00 612.80,952.10 612.80,955.90" fill="#1a1a1a" stroke="#1a1a1a" stroke-width="0.4" stroke-linejoin="round"/>
<polygon points="629.80,954.00 621.30,955.90 621.30,952.10" fill="#1a1a1a" stroke="#1a1a1a" stroke-width="0.4" stroke-linejoin="round"/>
<text x="563.1" y="951.8" font-family="Liberation Serif" font-size="13.6" font-weight="normal" font-style="normal" fill="#161616" text-anchor="start" textLength="24.2" lengthAdjust="spacingAndGlyphs" >Ø16</text>
<line x1="617.50" y1="929.00" x2="617.50" y2="970.00" stroke="#404040" stroke-width="0.9" />
<line x1="617.40" y1="968.50" x2="894.40" y2="968.50" stroke="#404040" stroke-width="0.9" />
<polygon points="617.40,968.60 627.40,966.80 627.40,970.40" fill="#1a1a1a" stroke="#1a1a1a" stroke-width="0.4" stroke-linejoin="round"/>
<polygon points="894.40,968.60 884.40,970.40 884.40,966.80" fill="#1a1a1a" stroke="#1a1a1a" stroke-width="0.4" stroke-linejoin="round"/>
<text x="739.9" y="963.6" font-family="Liberation Serif" font-size="14.2" font-weight="normal" font-style="normal" fill="#161616" text-anchor="start" textLength="31.5" lengthAdjust="spacingAndGlyphs" >(172)</text>
</svg></body></html>
